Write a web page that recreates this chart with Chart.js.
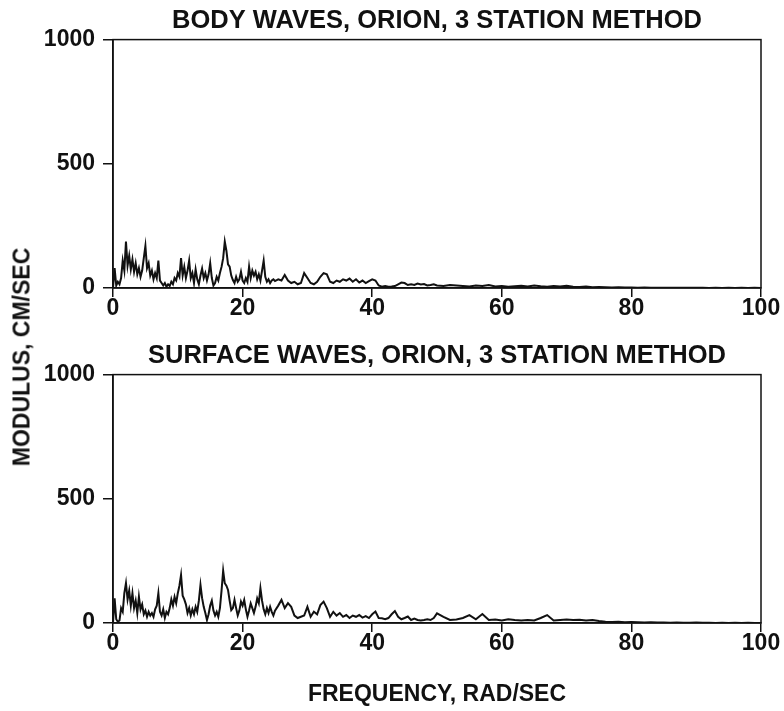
<!DOCTYPE html>
<html>
<head>
<meta charset="utf-8">
<script src="https://cdn.jsdelivr.net/npm/chart.js@4"></script>
<style>
  body { margin: 0; background: #fff; }
  #wrap { position: relative; width: 784px; height: 711px; }
  .box { position: absolute; left: 0; width: 784px; }
  #ylab {
    position: absolute; left: 22px; top: 357px;
    transform: translate(-50%, -50%) rotate(-90deg);
    font: bold 23px "Liberation Sans", Arial, sans-serif; color: #111;
    white-space: nowrap;
  }
</style>
</head>
<body>
<div id="wrap">
  <div class="box" style="top:0;height:335px"><canvas id="top_chart" width="784" height="335"></canvas></div>
  <div class="box" style="top:335px;height:376px"><canvas id="bottom_chart" width="784" height="376"></canvas></div>
  <div id="ylab">MODULUS, CM/SEC</div>
</div>
<script>
// frequency grid, rad/sec
const freq = [
  0, 0.25, 0.5, 0.75, 1, 1.25, 1.5, 1.75, 2, 2.25, 2.5, 2.75, 3, 3.25, 3.5, 3.75,
  4, 4.25, 4.5, 4.75, 5, 5.25, 5.5, 5.75, 6, 6.25, 6.5, 6.75, 7, 7.25, 7.5, 7.75,
  8, 8.25, 8.5, 8.75, 9, 9.25, 9.5, 9.75, 10, 10.25, 10.5, 10.75, 11, 11.25, 11.5, 11.75,
  12, 12.25, 12.5, 12.75, 13, 13.25, 13.5, 13.75, 14, 14.25, 14.5, 14.75, 15, 15.25, 15.5, 15.75,
  16, 16.25, 16.5, 16.75, 17, 17.25, 17.5, 17.75, 18, 18.25, 18.5, 18.75, 19, 19.25, 19.5, 19.75,
  20, 20.25, 20.5, 20.75, 21, 21.25, 21.5, 21.75, 22, 22.25, 22.5, 22.75, 23, 23.25, 23.5, 23.75,
  24, 24.25, 24.5, 24.75, 25,
  25.5, 26, 26.5, 27, 27.5, 28, 28.5, 29, 29.5, 30, 30.5, 31, 31.5, 32, 32.5, 33, 33.5, 34, 34.5, 35,
  35.5, 36, 36.5, 37, 37.5, 38, 38.5, 39, 39.5, 40, 40.5, 41, 41.5, 42, 42.5, 43, 43.5, 44, 44.5, 45,
  45.5, 46, 46.5, 47, 47.5, 48, 48.5, 49, 49.5, 50,
  51, 52, 53, 54, 55, 56, 57, 58, 59, 60, 61, 62, 63, 64, 65, 66, 67, 68, 69, 70,
  71, 72, 73, 74, 75, 76, 77, 78, 79, 80, 81, 82, 83, 84, 85, 86, 87, 88, 89, 90,
  91, 92, 93, 94, 95, 96, 97, 98, 99, 100
];

// modulus, cm/sec - body waves
const bodyWaves = [
  0, 80, 10, 25, 15, 40, 110, 70, 187, 90, 130, 75, 115, 65, 100, 55,
  80, 45, 70, 120, 169, 80, 100, 50, 70, 35, 60, 40, 110, 30, 20, 10,
  20, 5, 15, 8, 25, 15, 40, 30, 60, 45, 120, 50, 85, 40, 70, 110,
  40, 60, 20, 75, 35, 15, 50, 78, 40, 60, 30, 55, 100, 40, 10, 20,
  45, 30, 60, 85, 120, 187, 150, 95, 86, 50, 32, 20, 45, 25, 35, 65,
  30, 20, 40, 25, 86, 40, 70, 50, 65, 35, 55, 30, 70, 110, 45, 25,
  35, 20, 30, 35, 28,
  35, 30, 52, 30, 20, 25, 15, 20, 60, 40, 20, 15, 25, 45, 60, 55, 25, 20, 30, 25,
  35, 30, 38, 25, 35, 22, 30, 20, 28, 35, 30, 10, 5, 8, 5, 6, 8, 15, 22, 20,
  12, 15, 12, 18, 14, 16, 10, 12, 15, 10,
  8, 12, 10, 8, 6, 10, 8, 12, 6, 8, 5, 7, 9, 6, 10, 7, 5, 8, 6, 9,
  5, 4, 6, 3, 4, 3, 2, 3, 2, 2, 1, 2, 1, 1, 1, 1, 1, 1, 1, 1,
  1, 0, 1, 0, 1, 0, 1, 0, 1, 0
];

// modulus, cm/sec - surface waves
const surfaceWaves = [
  0, 99, 15, 5, 10, 60, 45, 120, 160, 95, 130, 70, 120, 60, 90, 40,
  106, 55, 75, 35, 50, 25, 45, 30, 40, 25, 55, 70, 120, 45, 30, 55,
  20, 45, 35, 60, 95, 70, 105, 80, 120, 150, 193, 110, 95, 75, 40, 60,
  30, 55, 35, 65, 45, 90, 153, 100, 65, 40, 12, 35, 70, 90, 50, 30,
  45, 25, 60, 130, 211, 160, 150, 133, 90, 52, 60, 93, 60, 30, 50, 86,
  70, 93, 55, 25, 50, 79, 60, 40, 65, 99, 80, 140, 90, 55, 35, 60,
  40, 65, 45, 30, 50,
  70, 93, 60, 80, 65, 30, 20, 25, 30, 65, 25, 45, 35, 72, 86, 60, 25, 45, 30, 40,
  25, 32, 20, 30, 25, 32, 22, 28, 20, 35, 46, 20, 19, 15, 20, 35, 48, 25, 15, 20,
  26, 12, 18, 12, 10, 12, 15, 12, 20, 39,
  25, 12, 14, 20, 32, 15, 36, 12, 14, 10, 15, 12, 10, 12, 10, 20, 32, 10, 12, 14,
  12, 13, 10, 12, 8, 5, 4, 5, 3, 4, 3, 2, 3, 2, 2, 1, 2, 1, 1, 2,
  1, 1, 0, 1, 0, 1, 0, 1, 0, 0
];

const xTicks = [0, 20, 40, 60, 80, 100];
const yTicks = [0, 500, 1000];

const FONT = '"Liberation Sans", Arial, sans-serif';
const INK = "#111";

// draws the closed frame round the plot
const frame = {
  id: "frame",
  afterDraw(chart) {
    const a = chart.chartArea;
    const ctx = chart.ctx;
    ctx.save();
    ctx.strokeStyle = INK;
    ctx.lineWidth = 1.5;
    ctx.strokeRect(a.left, a.top, a.right - a.left, a.bottom - a.top);
    ctx.restore();
  },
};

function makeChart(id, title, values, xHeight, xTitle) {
  const pts = freq.map((f, i) => ({ x: f, y: values[i] }));
  return new Chart(document.getElementById(id), {
    type: "line",
    data: {
      datasets: [{
        data: pts,
        borderColor: INK,
        borderWidth: 2,
        pointRadius: 0,
        tension: 0,
      }],
    },
    options: {
      responsive: false,
      animation: false,
      layout: { padding: { top: 0, right: 23, bottom: 0, left: 0 } },
      plugins: {
        legend: { display: false },
        tooltip: { enabled: false },
        title: {
          display: true,
          text: title,
          fullSize: false,
          color: INK,
          font: { family: FONT, size: 25.5, weight: "bold" },
          padding: { top: 6, bottom: 3 },
        },
      },
      scales: {
        x: {
          type: "linear",
          min: 0,
          max: 100,
          afterBuildTicks: (s) => { s.ticks = xTicks.map((v) => ({ value: v })); },
          afterFit: (s) => { s.height = xHeight; },
          grid: { drawOnChartArea: false, tickLength: 9, color: INK, lineWidth: 1.5 },
          border: { color: INK, width: 1.5 },
          ticks: { color: INK, padding: -2, maxRotation: 0, callback: (v) => String(v), font: { family: FONT, size: 23, weight: "bold" } },
          title: xTitle ? {
            display: true,
            text: xTitle,
            color: INK,
            font: { family: FONT, size: 23, weight: "bold" },
            padding: { top: 0, bottom: 3 },
          } : { display: false },
        },
        y: {
          min: 0,
          max: 1000,
          afterBuildTicks: (s) => { s.ticks = yTicks.map((v) => ({ value: v })); },
          afterFit: (s) => { s.width = 113; },
          grid: { drawOnChartArea: false, tickLength: 10, color: INK, lineWidth: 1.5 },
          border: { color: INK, width: 1.5 },
          ticks: { color: INK, padding: 8, callback: (v) => String(v), font: { family: FONT, size: 23, weight: "bold" } },
        },
      },
    },
    plugins: [frame],
  });
}

makeChart("top_chart", "BODY WAVES, ORION, 3 STATION METHOD", bodyWaves, 47, null);
makeChart("bottom_chart", "SURFACE WAVES, ORION, 3 STATION METHOD", surfaceWaves, 88, "FREQUENCY, RAD/SEC");
</script>
</body>
</html>
